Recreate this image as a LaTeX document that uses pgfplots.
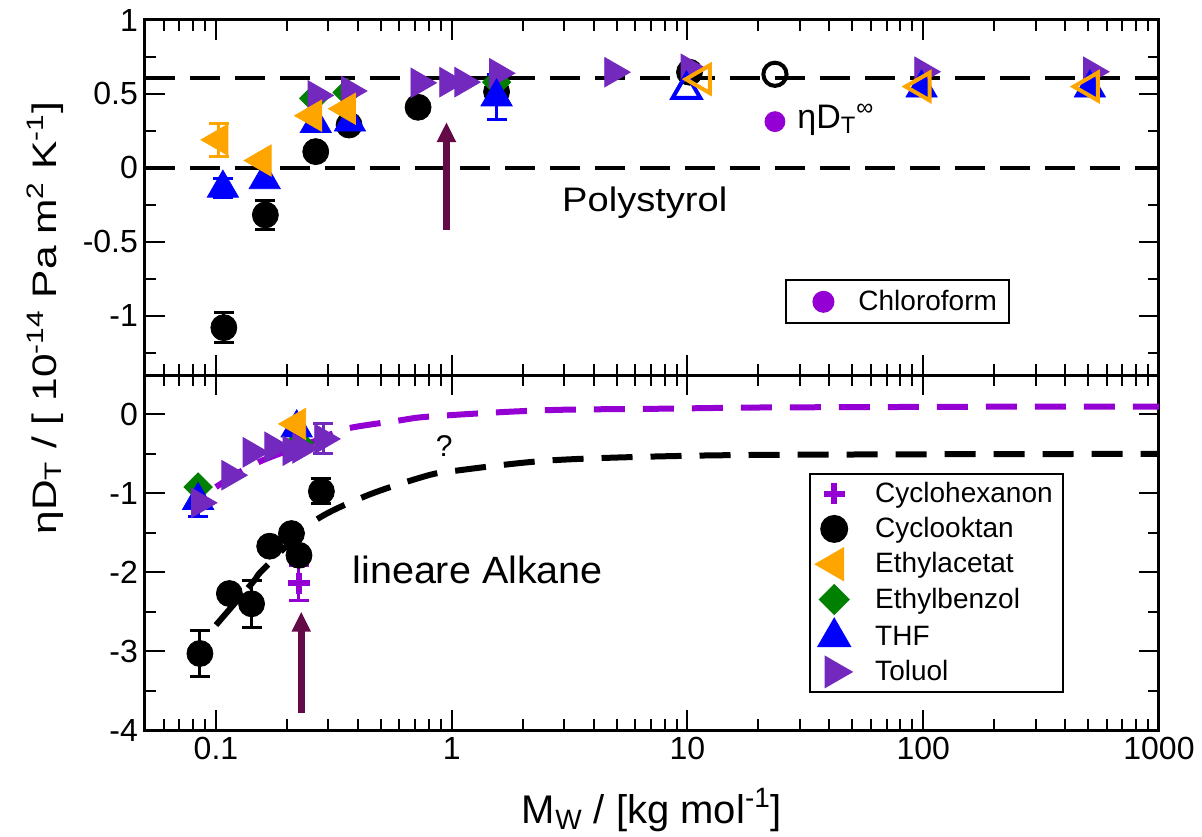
\documentclass[border=0pt]{standalone}
\usepackage{fontspec}
\setmainfont{Liberation Sans}
\usepackage{pgfplots}
\pgfplotsset{compat=1.18}
\usetikzlibrary{arrows.meta}
\definecolor{corange}{RGB}{255,165,0}
\definecolor{cblue}{RGB}{0,0,255}
\definecolor{cgreen}{RGB}{0,128,0}
\definecolor{ctol}{RGB}{115,40,190}
\definecolor{cviol}{RGB}{148,0,211}
\definecolor{carrow}{RGB}{100,10,70}
\tikzset{
 mkcirc/.style={black, mark=*, mark size=6.5pt},
 mkocirc/.style={black, mark=o, mark size=5.8pt, mark options={line width=2pt}},
 mkltri/.style={corange, mark=triangle*, mark size=9pt, mark options={rotate=90}},
 mkoltri/.style={corange, mark=triangle, mark size=8pt, mark options={rotate=90, line width=2pt}},
 mkrtri/.style={ctol, mark=triangle*, mark size=8.5pt, mark options={rotate=-90}},
 mktri/.style={cblue, mark=triangle*, mark size=9pt},
 mkotri/.style={cblue, mark=triangle, mark size=8pt, mark options={line width=2pt}},
 mkdiam/.style={cgreen, mark=square*, mark size=5pt, mark options={rotate=45}},
 mkplus/.style={cviol, mark=+, mark size=5.3pt, mark options={line width=3pt}},
 mkchl/.style={cviol, mark=*, mark size=5pt},
 hdash/.style={black, line width=2pt, dash pattern=on 15pt off 7.5pt},
 cdash/.style={line width=3pt, dash pattern=on 15.5pt off 9pt},
}
\pgfplotsset{
 ebars/.style={error bars/y dir=both, error bars/y explicit,
   error bars/error bar style={line width=1.5pt},
   error bars/error mark options={rotate=90, mark size=5pt, line width=1.5pt}},
}
\begin{document}
\begin{tikzpicture}
% ---------------- bottom panel ----------------
\begin{axis}[scale only axis, width=507pt, height=177.5pt,
  xmode=log, xmin=0.05, xmax=1000,
  xtick={0.1,1,10,100,1000},
  minor xtick={0.06,0.07,0.08,0.09,0.2,0.3,0.4,0.5,0.6,0.7,0.8,0.9,2,3,4,5,6,7,8,9,20,30,40,50,60,70,80,90,200,300,400,500,600,700,800,900},
  tick align=inside,
  major tick length=10pt, minor tick length=5.5pt,
  major tick style={line width=1pt, black},
  minor tick style={line width=1pt, black},
  axis line style={line width=1.5pt},
  tick label style={font=\fontsize{16}{18}\selectfont},
  at={(0,0)}, anchor=south west,
  ymin=-4, ymax=0.5,
  ytick={-4,-3,-2,-1,0}, yticklabels={-4,-3,-2,-1,0},
  minor ytick={-3.5,-2.5,-1.5,-0.5},
  xticklabels={0.1,1,10,100,1000},
  legend style={at={(0.906,0.724)}, anchor=north east, draw=black, line width=1pt,
    font=\fontsize{14}{16}\selectfont, inner xsep=3pt, inner ysep=2pt,
    row sep=2pt, column sep=10pt},
  legend cell align=left,
]
\addlegendimage{only marks, mkplus}\addlegendentry{Cyclohexanon}
\addlegendimage{only marks, mkcirc}\addlegendentry{Cyclooktan}
\addlegendimage{only marks, mkltri}\addlegendentry{Ethylacetat}
\addlegendimage{only marks, mkdiam}\addlegendentry{Ethylbenzol}
\addlegendimage{only marks, mktri}\addlegendentry{THF}
\addlegendimage{only marks, mkrtri}\addlegendentry{Toluol}
% Cyclooktan
\addplot[only marks, mkcirc, ebars, forget plot] coordinates {(0.0855,-3.03) +- (0,0.29) (0.1416,-2.40) +- (0,0.295) (0.28,-0.975) +- (0,0.16)};
\addplot[only marks, mkcirc, forget plot] coordinates {(0.114,-2.27) (0.169,-1.67) (0.209,-1.51) (0.225,-1.785)};
% Ethylbenzol
\addplot[only marks, mkdiam, forget plot] coordinates {(0.084,-0.92) (0.225,-0.36)};
% THF
\addplot[only marks, mktri, ebars, forget plot] coordinates {(0.084,-1.09) +- (0,0.2)};
\addplot[only marks, mktri, forget plot] coordinates {(0.22,-0.17)};
% Ethylacetat
\addplot[only marks, mkltri, forget plot] coordinates {(0.22,-0.12)};
% Toluol
\addplot[only marks, mkrtri, forget plot] coordinates {(0.0855,-1.12) (0.115,-0.77) (0.1416,-0.48) (0.175,-0.41) (0.209,-0.46) (0.23,-0.43)};
\addplot[only marks, mkrtri, ebars, forget plot] coordinates {(0.285,-0.31) +- (0,0.19)};
% Cyclohexanon
\addplot[only marks, mkplus, ebars, forget plot] coordinates {(0.225,-2.14) +- (0,0.22)};
% curves
\addplot[cviol, cdash, smooth, forget plot] coordinates {
 (0.1,-0.92) (0.126,-0.73) (0.164,-0.56) (0.267,-0.33) (0.358,-0.18) (0.6,-0.076) (0.78,-0.03) (1.64,0.03) (3,0.06) (7.4,0.072) (20,0.088) (90,0.095) (300,0.1) (1000,0.1)};
\addplot[black, cdash, smooth, forget plot] coordinates {
 (0.1,-2.67) (0.144,-2.12) (0.158,-1.97) (0.259,-1.36) (0.435,-1.03) (0.757,-0.79) (1,-0.72) (2.7,-0.58) (12,-0.52) (100,-0.505) (1000,-0.5)};
% arrow
\addplot[carrow, line width=3.5pt, -{Triangle[width=9pt,length=10pt]}, forget plot] coordinates {(0.23,-3.78) (0.23,-2.5)};
\node[anchor=west, inner sep=0pt, font=\fontsize{19}{22}\selectfont, xscale=1.04] at (axis cs:0.378,-1.97) {lineare Alkane};
\node[font=\fontsize{15}{18}\selectfont] at (axis cs:0.93,-0.4) {?};
\end{axis}
% ---------------- top panel ----------------
\begin{axis}[scale only axis, width=507pt, height=177.5pt,
  xmode=log, xmin=0.05, xmax=1000,
  xtick={0.1,1,10,100,1000},
  minor xtick={0.06,0.07,0.08,0.09,0.2,0.3,0.4,0.5,0.6,0.7,0.8,0.9,2,3,4,5,6,7,8,9,20,30,40,50,60,70,80,90,200,300,400,500,600,700,800,900},
  tick align=inside,
  major tick length=10pt, minor tick length=5.5pt,
  major tick style={line width=1pt, black},
  minor tick style={line width=1pt, black},
  axis line style={line width=1.5pt},
  tick label style={font=\fontsize{16}{18}\selectfont},
  at={(0,177.5pt)}, anchor=south west,
  ymin=-1.4, ymax=1,
  ytick={-1,-0.5,0,0.5,1}, yticklabels={-1,-0.5,0,0.5,1},
  minor ytick={-1.25,-0.75,-0.25,0.25,0.75},
  xticklabels={,,,,},
  legend style={at={(0.853,0.27)}, anchor=north east, draw=black, line width=1pt,
    font=\fontsize{14}{16}\selectfont, inner xsep=4pt, inner ysep=3pt, column sep=10.5pt},
]
\addlegendimage{only marks, mkchl, legend image code/.code={\path (-0.2cm,0cm); \draw[mark repeat=2,mark phase=2,##1] plot coordinates {(0cm,0cm) (0.3cm,0cm) (0.6cm,0cm)};}}\addlegendentry{Chloroform}
\addplot[hdash, forget plot] coordinates {(0.05,0.61) (1000,0.61)};
\addplot[hdash, forget plot] coordinates {(0.05,0) (1000,0)};
% Cyclooktan
\addplot[only marks, mkcirc, ebars, forget plot] coordinates {(0.108,-1.08) +- (0,0.1) (0.162,-0.318) +- (0,0.1)};
\addplot[only marks, mkcirc, forget plot] coordinates {(0.265,0.11) (0.367,0.29) (0.72,0.41) (1.55,0.515) (10.2,0.647)};
\addplot[only marks, mkocirc, forget plot] coordinates {(23.5,0.633)};
% Ethylbenzol
\addplot[only marks, mkdiam, forget plot] coordinates {(0.26,0.47) (0.36,0.51) (1.55,0.58)};
% Toluol
\addplot[only marks, mkrtri, forget plot] coordinates {(0.267,0.49) (0.37,0.52) (0.73,0.575) (0.966,0.58) (1.12,0.58) (1.57,0.64) (4.84,0.647) (10.2,0.67) (100,0.65) (520,0.65)};
% THF
\addplot[only marks, mktri, ebars, forget plot] coordinates {(0.107,-0.137) +- (0,0.065) (1.55,0.48) +- (0,0.15)};
\addplot[only marks, mktri, forget plot] coordinates {(0.161,-0.08) (0.265,0.30) (0.37,0.31) (98.4,0.54) (509,0.54)};
\addplot[only marks, mkotri, forget plot] coordinates {(9.9,0.527)};
% Ethylacetat
\addplot[only marks, mkltri, ebars, forget plot] coordinates {(0.103,0.19) +- (0,0.11)};
\addplot[only marks, mkltri, forget plot] coordinates {(0.157,0.05) (0.257,0.353) (0.358,0.40)};
\addplot[only marks, mkoltri, forget plot] coordinates {(11.5,0.60) (98.4,0.55) (509,0.55)};
% Chloroform
\addplot[only marks, mkchl, forget plot] coordinates {(23.5,0.313)};
% arrow
\addplot[carrow, line width=3.5pt, -{Triangle[width=9pt,length=10pt]}, forget plot] coordinates {(0.95,-0.42) (0.95,0.31)};
\node[anchor=west, inner sep=0pt, font=\fontsize{17}{20}\selectfont, xscale=1.12] at (axis cs:2.93,-0.236) {Polystyrol};
\node[anchor=west, font=\fontsize{17}{20}\selectfont, inner sep=1pt] at (axis cs:28.6,0.324) {ηD\textsubscript{T}\textsuperscript{∞}};
\end{axis}
\node[rotate=90, xscale=1.25, font=\fontsize{17}{20}\selectfont] at (-50pt,206pt) {ηD\textsubscript{T} / [ 10\textsuperscript{-14} Pa m\textsuperscript{2} K\textsuperscript{-1}]};
\node[anchor=base, font=\fontsize{20}{24}\selectfont] at (253.5pt,-46.5pt) {M\textsubscript{W} / [kg mol\textsuperscript{-1}]};
\pgfresetboundingbox
\path[use as bounding box] (-72.5pt,-53pt) rectangle (528.5pt,365pt);
\end{tikzpicture}
\end{document}
